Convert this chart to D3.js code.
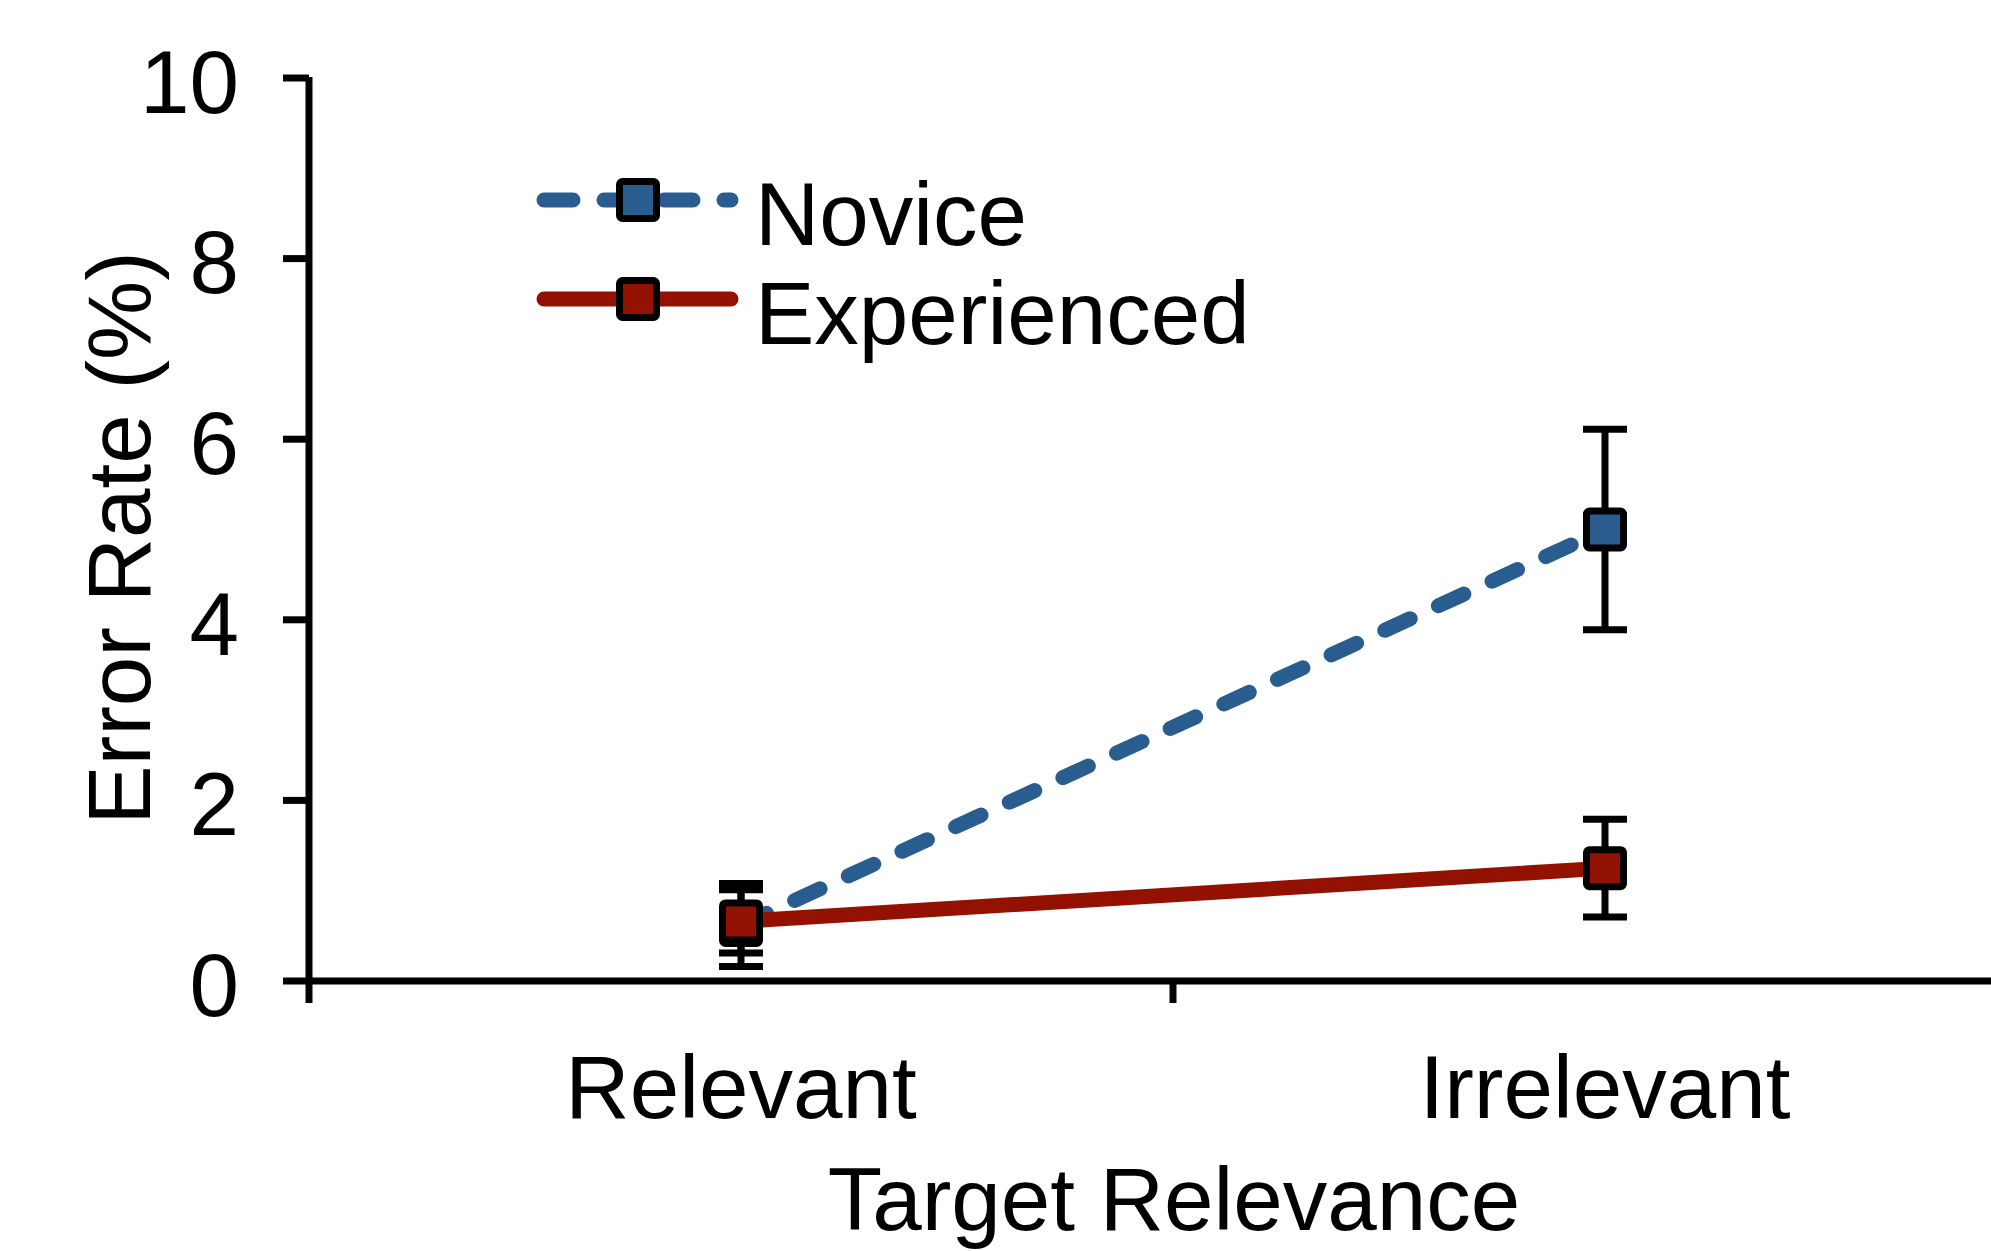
<!DOCTYPE html>
<html>
<head>
<meta charset="utf-8">
<script src="https://cdn.jsdelivr.net/npm/d3@7"></script>
<style>
  body { margin: 0; background: #fff; }
  text { font-family: "Liberation Sans", Arial, Helvetica, sans-serif; fill: #000; }
</style>
</head>
<body>
<div id="chart"></div>
<script>
const categories = ["Relevant", "Irrelevant"];
const seriesNames = ["Novice", "Experienced"];
const noviceValues = [0.62, 5.0];
const noviceErrors = [0.46, 1.11];
const experiencedValues = [0.66, 1.25];
const experiencedErrors = [0.35, 0.54];
const yTicks = [0, 2, 4, 6, 8, 10];

const width = 1991, height = 1251;
const fontSize = 89;

const svg = d3.select("#chart")
  .append("svg")
  .attr("width", width)
  .attr("height", height);

const x = d3.scaleBand()
  .domain(categories)
  .range([309, 2037])
  .paddingInner(0)
  .paddingOuter(0);

const y = d3.scaleLinear()
  .domain([0, 10])
  .range([981, 78]);

const xc = d => x(d) + x.bandwidth() / 2;

const series = [
  { name: seriesNames[0], values: noviceValues, errors: noviceErrors, color: "#2a5d8f", dash: "28,31" },
  { name: seriesNames[1], values: experiencedValues, errors: experiencedErrors, color: "#921100", dash: null }
];

// axes
svg.append("line")
  .attr("x1", x.range()[0]).attr("x2", x.range()[1])
  .attr("y1", y(0)).attr("y2", y(0))
  .style("stroke", "#000").style("stroke-width", "7px");

svg.append("line")
  .attr("x1", x.range()[0]).attr("x2", x.range()[0])
  .attr("y1", y(10) - 1).attr("y2", y(0))
  .style("stroke", "#000").style("stroke-width", "7px");

const xTickPos = categories.map(d => x(d)).concat([x.range()[1]]);
svg.selectAll(".x-tick")
  .data(xTickPos)
  .enter()
  .append("line")
  .attr("class", "x-tick")
  .attr("x1", d => d).attr("x2", d => d)
  .attr("y1", y(0)).attr("y2", y(0) + 22)
  .style("stroke", "#000").style("stroke-width", "7px");

svg.selectAll(".y-tick")
  .data(yTicks)
  .enter()
  .append("line")
  .attr("class", "y-tick")
  .attr("x1", x.range()[0] - 26).attr("x2", x.range()[0])
  .attr("y1", d => y(d)).attr("y2", d => y(d))
  .style("stroke", "#000").style("stroke-width", "7px");

svg.selectAll(".y-label")
  .data(yTicks)
  .enter()
  .append("text")
  .attr("class", "y-label")
  .attr("x", 239)
  .attr("y", d => y(d))
  .attr("dy", "0.39em")
  .attr("text-anchor", "end")
  .style("font-size", fontSize + "px")
  .text(d => d);

svg.selectAll(".x-label")
  .data(categories)
  .enter()
  .append("text")
  .attr("class", "x-label")
  .attr("x", d => xc(d))
  .attr("y", 1118)
  .attr("text-anchor", "middle")
  .style("font-size", fontSize + "px")
  .text(d => d);

svg.append("text")
  .attr("x", 1174)
  .attr("y", 1230)
  .attr("text-anchor", "middle")
  .style("font-size", fontSize + "px")
  .text("Target Relevance");

svg.append("text")
  .attr("transform", "translate(150, 538) rotate(-90)")
  .attr("text-anchor", "middle")
  .style("font-size", fontSize + "px")
  .text("Error Rate (%)");

// series
const line = d3.line()
  .x((d, i) => xc(categories[i]))
  .y(d => y(d));

const markerSize = 37;

series.forEach(s => {
  const g = svg.append("g").attr("class", "series");

  g.append("path")
    .datum(s.values)
    .attr("d", line)
    .style("fill", "none")
    .style("stroke", s.color)
    .style("stroke-width", "15px")
    .style("stroke-linecap", "round")
    .style("stroke-dasharray", s.dash);

  categories.forEach((c, i) => {
    const cx = xc(c);
    const top = y(s.values[i] + s.errors[i]);
    const bot = y(s.values[i] - s.errors[i]);
    g.append("line")
      .attr("x1", cx).attr("x2", cx)
      .attr("y1", top).attr("y2", bot)
      .style("stroke", "#000").style("stroke-width", "7px");
    [top, bot].forEach(yy => {
      g.append("line")
        .attr("x1", cx - 22).attr("x2", cx + 22)
        .attr("y1", yy).attr("y2", yy)
        .style("stroke", "#000").style("stroke-width", "7px");
    });
  });

  g.selectAll(".marker")
    .data(s.values)
    .enter()
    .append("rect")
    .attr("class", "marker")
    .attr("x", (d, i) => xc(categories[i]) - markerSize / 2)
    .attr("y", d => y(d) - markerSize / 2)
    .attr("width", markerSize)
    .attr("height", markerSize)
    .attr("rx", 3)
    .style("fill", s.color)
    .style("stroke", "#000")
    .style("stroke-width", "7px");
});

// legend
const legend = svg.append("g").attr("class", "legend");
series.forEach((s, i) => {
  const ly = 200 + i * 99;
  legend.append("line")
    .attr("x1", 544).attr("x2", 731)
    .attr("y1", ly).attr("y2", ly)
    .style("stroke", s.color)
    .style("stroke-width", "15px")
    .style("stroke-linecap", "round")
    .style("stroke-dasharray", s.dash ? "29,31" : null);
  legend.append("rect")
    .attr("x", 638 - markerSize / 2)
    .attr("y", ly - markerSize / 2)
    .attr("width", markerSize)
    .attr("height", markerSize)
    .attr("rx", 3)
    .style("fill", s.color)
    .style("stroke", "#000")
    .style("stroke-width", "7px");
  legend.append("text")
    .attr("x", 755)
    .attr("y", ly + 45)
    .style("font-size", fontSize + "px")
    .text(s.name);
});
</script>
</body>
</html>
